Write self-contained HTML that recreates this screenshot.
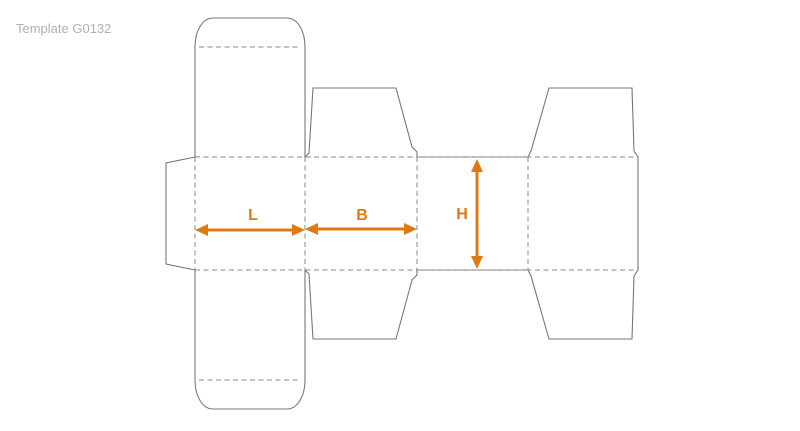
<!DOCTYPE html>
<html><head><style>
body{margin:0;background:#fff;width:800px;height:431px;overflow:hidden}
svg{display:block}
</style></head><body>
<svg width="800" height="431" viewBox="0 0 800 431" xmlns="http://www.w3.org/2000/svg">
<text x="16" y="33" font-family="Liberation Sans, sans-serif" font-size="13" fill="#b0b0b0">Template G0132</text>
<g fill="none" stroke="#777" stroke-width="1.1">
<!-- left column -->
<path d="M195,47 C195,30 203,18 213,18 L287,18 C297,18 305,30 305,47"/>
<path d="M195,380 C195,397 203,409 213,409 L287,409 C297,409 305,397 305,380"/>
<line x1="195" y1="47" x2="195" y2="157"/>
<line x1="305" y1="47" x2="305" y2="157"/>
<line x1="195" y1="270" x2="195" y2="380"/>
<line x1="305" y1="270" x2="305" y2="380"/>
<!-- glue flap -->
<path d="M195,157 L166,163 L166,264 L195,270"/>
<!-- B flaps -->
<path d="M305,157 L309,153 L313,88 L396,88 L412,147 L417,152 L417,157"/>
<path d="M305,270 L309,274 L313,339 L396,339 L412,280 L417,275 L417,270"/>
<!-- H lines -->
<line x1="417" y1="157" x2="528" y2="157"/>
<line x1="417" y1="270" x2="528" y2="270"/>
<!-- right flaps -->
<path d="M528,157 L531,151 L549,88 L632,88 L634,151 L638,157 L638,270 L634,276 L632,339 L549,339 L531,276 L528,270"/>
</g>
<g fill="none" stroke="#888" stroke-width="1" stroke-dasharray="5,3.5">
<line x1="195" y1="157" x2="638" y2="157"/>
<line x1="195" y1="270" x2="638" y2="270"/>
<line x1="199" y1="47" x2="301" y2="47"/>
<line x1="199" y1="380" x2="301" y2="380"/>
<line x1="195" y1="157" x2="195" y2="270"/>
<line x1="305" y1="157" x2="305" y2="270"/>
<line x1="417" y1="157" x2="417" y2="270"/>
<line x1="528" y1="157" x2="528" y2="270"/>
</g>
<g stroke="#e07a10" stroke-width="3" fill="#e07a10">
<line x1="205" y1="230" x2="295" y2="230"/>
<line x1="315" y1="229" x2="407" y2="229"/>
<line x1="477" y1="168" x2="477" y2="259"/>
<path stroke="none" d="M195,230 L208,224 L208,236Z M305,230 L292,224 L292,236Z"/>
<path stroke="none" d="M305,229 L318,223 L318,235Z M417,229 L404,223 L404,235Z"/>
<path stroke="none" d="M477,159 L471,172 L483,172Z M477,269 L471,256 L483,256Z"/>
</g>
<g font-family="Liberation Sans, sans-serif" font-size="16" font-weight="bold" fill="#e07a10" text-anchor="middle">
<text x="253" y="220">L</text>
<text x="362" y="220">B</text>
<text x="462" y="219">H</text>
</g>
</svg>
</body></html>
